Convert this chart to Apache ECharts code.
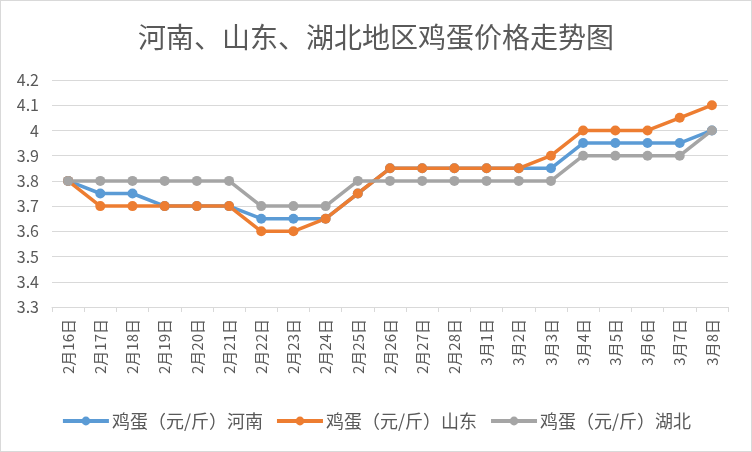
<!DOCTYPE html>
<html><head><meta charset="utf-8">
<script src="https://cdn.jsdelivr.net/npm/echarts@6/dist/echarts.min.js"></script>
<style>html,body{margin:0;padding:0;background:#fff}#c{width:750px;height:450px;border:1px solid #d9d9d9}</style>
</head><body><div id="c"></div>
<script>
const categories = ['2月16日','2月17日','2月18日','2月19日','2月20日','2月21日','2月22日','2月23日','2月24日','2月25日','2月26日','2月27日','2月28日','3月1日','3月2日','3月3日','3月4日','3月5日','3月6日','3月7日','3月8日'];
const henan   = [3.8,3.75,3.75,3.7,3.7,3.7,3.65,3.65,3.65,3.75,3.85,3.85,3.85,3.85,3.85,3.85,3.95,3.95,3.95,3.95,4.0];
const shandong= [3.8,3.7,3.7,3.7,3.7,3.7,3.6,3.6,3.65,3.75,3.85,3.85,3.85,3.85,3.85,3.9,4.0,4.0,4.0,4.05,4.1];
const hubei   = [3.8,3.8,3.8,3.8,3.8,3.8,3.7,3.7,3.7,3.8,3.8,3.8,3.8,3.8,3.8,3.8,3.9,3.9,3.9,3.9,4.0];
const seriesNames = ['鸡蛋（元/斤）河南','鸡蛋（元/斤）山东','鸡蛋（元/斤）湖北'];
const colors = ['#5B9BD5','#ED7D31','#A5A5A5'];
const font = '"Noto Sans CJK SC", sans-serif';
const chart = echarts.init(document.getElementById('c'), null, {renderer:'canvas'});
function mk(name, data, color){
  return {name, type:'line', data, color, symbol:'circle', symbolSize:10,
    lineStyle:{width:3.5, color}, itemStyle:{color}, emphasis:{disabled:true}};
}
chart.setOption({
  animation:false,
  title:{text:'河南、山东、湖北地区鸡蛋价格走势图', left:'center', top:17,
    textStyle:{fontFamily:font, fontSize:28, fontWeight:'normal', color:'#595959'}},
  grid:{left:51, right:23, top:79, bottom:144},
  legend:{bottom:16, left:'center', itemWidth:46, itemHeight:11, itemGap:12,
    lineStyle:{width:4},
    textStyle:{fontFamily:font, fontSize:18, color:'#595959', padding:[0,0,0,-2]},
    data:seriesNames},
  xAxis:{type:'category', data:categories, boundaryGap:true,
    axisLine:{lineStyle:{color:'#d9d9d9', width:1}},
    axisTick:{show:true, length:5, lineStyle:{color:'#d9d9d9'}},
    axisLabel:{rotate:90, interval:0, fontFamily:font, fontSize:15, color:'#595959', margin:12}},
  yAxis:{type:'value', min:3.3, max:4.2, interval:0.1,
    axisLine:{show:false}, axisTick:{show:false},
    splitLine:{lineStyle:{color:'#d9d9d9', width:1}},
    axisLabel:{fontFamily:font, fontSize:16, color:'#595959', margin:13,
      formatter:v=>String(+v.toFixed(1))}},
  series:[mk(seriesNames[0], henan, colors[0]), mk(seriesNames[1], shandong, colors[1]), mk(seriesNames[2], hubei, colors[2])]
});
</script></body></html>
